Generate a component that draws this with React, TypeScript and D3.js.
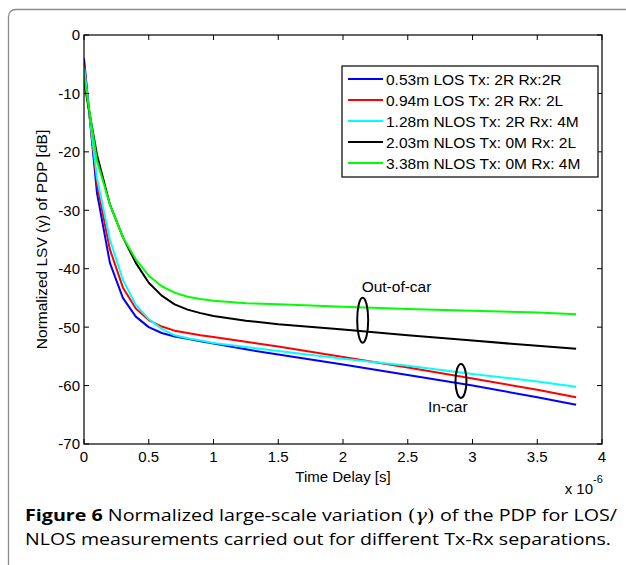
import React from "react";
import * as d3 from "d3";

const timeUs = [0, 0.1, 0.2, 0.3, 0.4, 0.5, 0.6, 0.7, 0.8, 0.9, 1.0, 1.25, 1.5, 2.0, 2.5, 3.0, 3.5, 3.8];
const blue = [-4, -27, -39, -45, -48.2, -50, -51, -51.6, -52, -52.4, -52.8, -53.8, -54.7, -56.4, -58.2, -60.0, -62.0, -63.3];
const red = [-5, -25.5, -36.7, -43.2, -46.8, -48.8, -49.9, -50.6, -51.0, -51.4, -51.7, -52.5, -53.3, -55.1, -56.9, -58.8, -60.7, -62.0];
const cyan = [-5.5, -24.5, -35, -41.9, -46.2, -48.6, -50.3, -51.4, -51.9, -52.3, -52.7, -53.4, -54.1, -55.4, -56.6, -58.0, -59.3, -60.2];
const black = [-8, -20.5, -29, -34.6, -39, -42.4, -44.6, -46.1, -47.0, -47.6, -48.1, -48.9, -49.5, -50.4, -51.4, -52.3, -53.2, -53.7];
const green = [-7, -21.5, -29, -34.6, -38.4, -41.2, -43, -44.1, -44.8, -45.2, -45.5, -45.9, -46.1, -46.5, -46.9, -47.2, -47.5, -47.8];

const seriesNames = [
  "0.53m LOS Tx: 2R Rx:2R",
  "0.94m LOS Tx: 2R Rx: 2L",
  "1.28m NLOS Tx: 2R Rx: 4M",
  "2.03m NLOS Tx: 0M Rx: 2L",
  "3.38m NLOS Tx: 0M Rx: 4M",
];
const seriesColors = ["#0000ff", "#ff0000", "#00ffff", "#000000", "#00ff00"];
const seriesValues = [blue, red, cyan, black, green];

const xTicks = [0, 0.5, 1, 1.5, 2, 2.5, 3, 3.5, 4];
const yTicks = [0, -10, -20, -30, -40, -50, -60, -70];

const FONT = "'Liberation Sans', Arial, Helvetica, sans-serif";

export default function App() {
  const left = 84, right = 602, top = 35, bottom = 444;
  const x = d3.scaleLinear().domain([0, 4]).range([left, right]);
  const y = d3.scaleLinear().domain([-70, 0]).range([bottom, top]);
  const line = d3
    .line<number>()
    .x((_, i) => x(timeUs[i]))
    .y((d) => y(d));

  const tickLen = 5;
  const legX = 342, legY = 66, legW = 256, legH = 111;

  return (
    <svg
      width={626}
      height={565}
      style={{ position: "absolute", left: 0, top: 0, background: "#fff" }}
    >
      <rect x={0} y={0} width={626} height={565} fill="#fff" />
      <rect x={8.5} y={9.5} width={640} height={600} rx={7} fill="none" stroke="#8c8c8c" strokeWidth={1.3} />

      <defs>
        <clipPath id="clip">
          <rect x={left} y={top} width={right - left} height={bottom - top} />
        </clipPath>
      </defs>

      {/* series */}
      <g clipPath="url(#clip)">
        {seriesValues.map((vals, i) => (
          <path key={i} d={line(vals) || ""} fill="none" stroke={seriesColors[i]} strokeWidth={2} strokeLinejoin="round" />
        ))}
      </g>

      {/* axes box */}
      <rect x={left} y={top} width={right - left} height={bottom - top} fill="none" stroke="#000" strokeWidth={1.2} />
      {xTicks.map((t) => (
        <g key={"xt" + t}>
          <line x1={x(t)} x2={x(t)} y1={bottom} y2={bottom - tickLen} stroke="#000" strokeWidth={1} />
          <line x1={x(t)} x2={x(t)} y1={top} y2={top + tickLen} stroke="#000" strokeWidth={1} />
          <text x={x(t)} y={462} textAnchor="middle" fontFamily={FONT} fontSize={15} fill="#000">
            {t}
          </text>
        </g>
      ))}
      {yTicks.map((t) => (
        <g key={"yt" + t}>
          <line x1={left} x2={left + tickLen} y1={y(t)} y2={y(t)} stroke="#000" strokeWidth={1} />
          <line x1={right} x2={right - tickLen} y1={y(t)} y2={y(t)} stroke="#000" strokeWidth={1} />
          <text x={80} y={y(t)} dy="0.36em" textAnchor="end" fontFamily={FONT} fontSize={15} fill="#000">
            {t}
          </text>
        </g>
      ))}

      {/* axis labels */}
      <text x={(left + right) / 2} y={482} textAnchor="middle" fontFamily={FONT} fontSize={15} fill="#000">
        Time Delay [s]
      </text>
      <text x={593} y={494} textAnchor="end" fontFamily={FONT} fontSize={15} fill="#000">
        x 10
      </text>
      <text x={593} y={483} fontFamily={FONT} fontSize={11} fill="#000">
        -6
      </text>
      <text
        transform={`translate(47,${(top + bottom) / 2}) rotate(-90)`}
        textAnchor="middle"
        fontFamily={FONT}
        fontSize={15.5}
        fill="#000"
      >
        Normalized LSV (γ) of PDP [dB]
      </text>

      {/* legend */}
      <rect x={legX} y={legY} width={legW} height={legH} fill="#fff" stroke="#000" strokeWidth={1.2} />
      {seriesNames.map((name, i) => {
        const cy = 79 + i * 21;
        return (
          <g key={name}>
            <line x1={348} x2={383} y1={cy} y2={cy} stroke={seriesColors[i]} strokeWidth={2} />
            <text x={386} y={cy} dy="0.36em" fontFamily={FONT} fontSize={15.5} fill="#000">
              {name}
            </text>
          </g>
        );
      })}

      {/* annotations */}
      <ellipse cx={x(2.152)} cy={y(-48.8)} rx={5.5} ry={22.5} fill="none" stroke="#000" strokeWidth={2} />
      <text x={x(2.144)} y={y(-43.1)} dy="0.36em" fontFamily={FONT} fontSize={15.5} fill="#000">
        Out-of-car
      </text>
      <ellipse cx={x(2.911)} cy={y(-59.2)} rx={5.5} ry={17} fill="none" stroke="#000" strokeWidth={2} />
      <text x={x(2.656)} y={y(-63.6)} dy="0.36em" fontFamily={FONT} fontSize={15.5} fill="#000">
        In-car
      </text>

      {/* caption */}
      <text x={25} y={521} fontFamily="'Open Sans', 'Noto Sans', sans-serif" fontSize={16.5} fill="#000" textLength={592} lengthAdjust="spacingAndGlyphs">
        <tspan fontWeight="bold">Figure 6</tspan>
        <tspan> Normalized large-scale variation </tspan>
        <tspan fontFamily="'DejaVu Serif', serif">(</tspan>
        <tspan fontFamily="'DejaVu Serif', serif" fontStyle="italic">γ</tspan>
        <tspan fontFamily="'DejaVu Serif', serif">)</tspan>
        <tspan> of the PDP for LOS/</tspan>
      </text>
      <text x={25} y={545} fontFamily="'Open Sans', 'Noto Sans', sans-serif" fontSize={16.5} fill="#000" textLength={586} lengthAdjust="spacingAndGlyphs">
        NLOS measurements carried out for different Tx-Rx separations.
      </text>
    </svg>
  );
}
